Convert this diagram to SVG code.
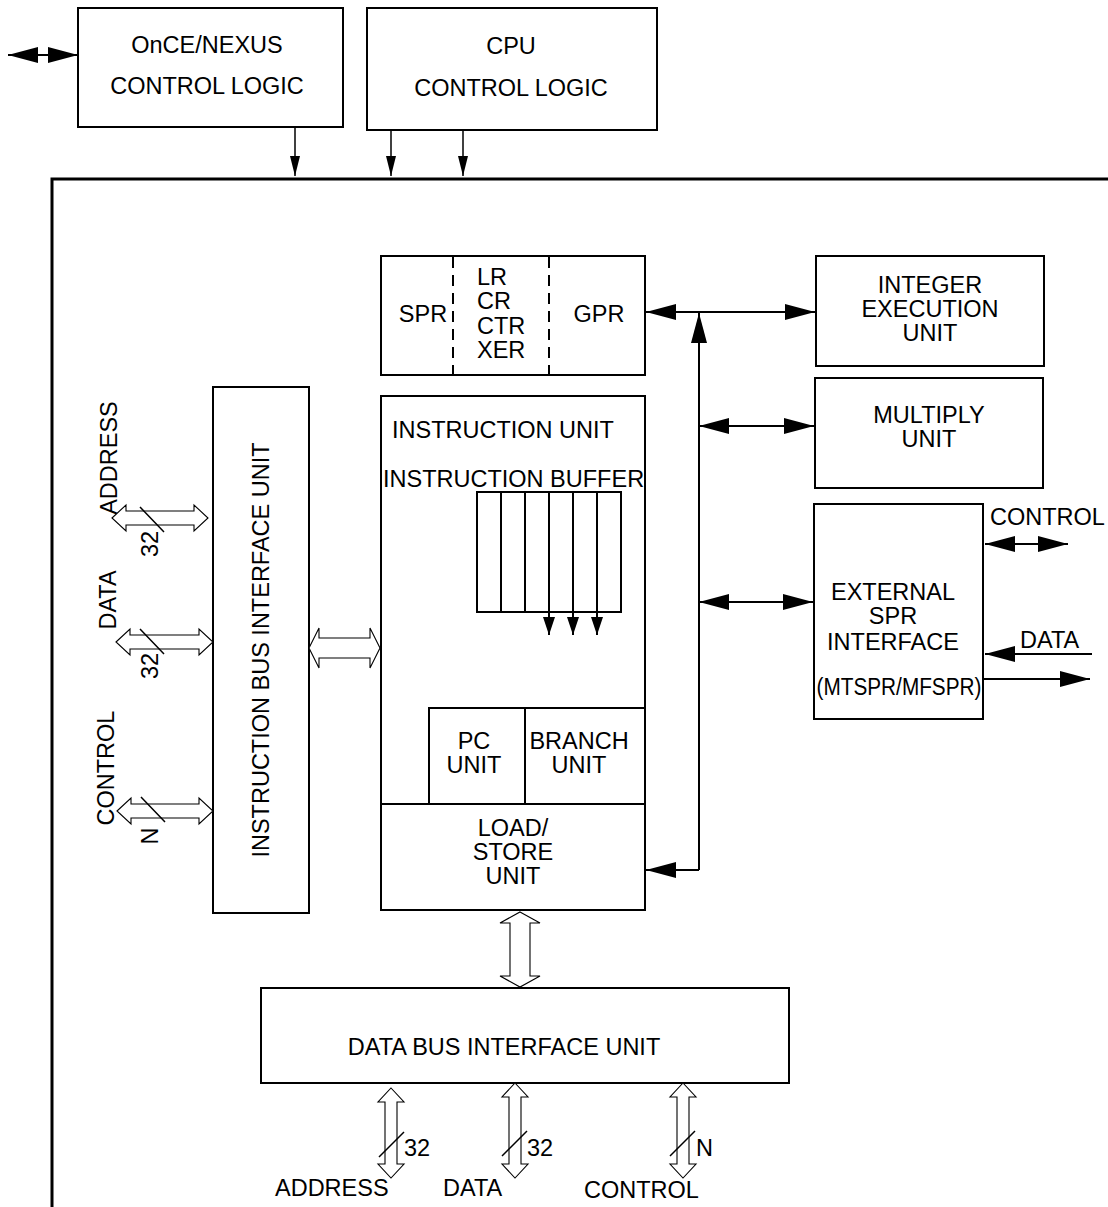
<svg xmlns="http://www.w3.org/2000/svg" width="1108" height="1207" viewBox="0 0 1108 1207">
<style>
text{font-family:"Liberation Sans",Arial,sans-serif;font-size:23.5px;fill:#000}
.c{text-anchor:middle}
.box{fill:#fff;stroke:#000;stroke-width:2}
.ln{stroke:#000;stroke-width:2;fill:none}
.thin{stroke:#000;stroke-width:1.5;fill:none}
.hol{fill:#fff;stroke:#000;stroke-width:1.1}
.dash{stroke:#000;stroke-width:2;stroke-dasharray:11 7;fill:none}
</style>
<defs>
<marker id="ah" viewBox="0 0 30 16" refX="30" refY="8" markerWidth="30" markerHeight="16" markerUnits="userSpaceOnUse" orient="auto-start-reverse"><path d="M0,0 L30,8 L0,16 z"/></marker>
<marker id="sh" viewBox="0 0 20 10" refX="20" refY="5" markerWidth="20" markerHeight="10" markerUnits="userSpaceOnUse" orient="auto"><path d="M0,0 L20,5 L0,10 z"/></marker>
<marker id="bh" viewBox="0 0 18 12" refX="18" refY="6" markerWidth="18" markerHeight="12" markerUnits="userSpaceOnUse" orient="auto"><path d="M0,0 L18,6 L0,12 z"/></marker>
</defs>

<path id="frame" d="M52,1207 L52,179 L1108,179" stroke="#000" stroke-width="3" fill="none"/>

<g id="once">
<rect class="box" x="78" y="8" width="265" height="119"/>
<text class="c" x="207" y="53">OnCE/NEXUS</text>
<text class="c" x="207" y="94">CONTROL LOGIC</text>
</g>
<g id="cpu">
<rect class="box" x="367" y="8" width="290" height="122"/>
<text class="c" x="511" y="54">CPU</text>
<text class="c" x="511" y="96">CONTROL LOGIC</text>
</g>

<g id="regs">
<rect class="box" x="381" y="256" width="264" height="119"/>
<line class="dash" x1="453" y1="257" x2="453" y2="374"/>
<line class="dash" x1="549" y1="257" x2="549" y2="374"/>
<text class="c" x="423" y="322">SPR</text>
<text x="477" y="285">LR</text>
<text x="477" y="309">CR</text>
<text x="477" y="334">CTR</text>
<text x="477" y="358">XER</text>
<text class="c" x="599" y="322">GPR</text>
</g>

<g id="integer">
<rect class="box" x="816" y="256" width="228" height="110"/>
<text class="c" x="930" y="293">INTEGER</text>
<text class="c" x="930" y="317">EXECUTION</text>
<text class="c" x="930" y="341">UNIT</text>
</g>
<g id="multiply">
<rect class="box" x="815" y="378" width="228" height="110"/>
<text class="c" x="929" y="423">MULTIPLY</text>
<text class="c" x="929" y="447">UNIT</text>
</g>
<g id="extspr">
<rect class="box" x="814" y="504" width="169" height="215"/>
<text class="c" x="893" y="600">EXTERNAL</text>
<text class="c" x="893" y="624">SPR</text>
<text class="c" x="893" y="650">INTERFACE</text>
<text class="c" x="899" y="695" textLength="165" lengthAdjust="spacingAndGlyphs">(MTSPR/MFSPR)</text>
<text x="990" y="525">CONTROL</text>
<text x="1020" y="648">DATA</text>
</g>

<g id="ibiu">
<rect class="box" x="213" y="387" width="96" height="526"/>
<text class="c" transform="rotate(-90 269 650)" x="269" y="650">INSTRUCTION BUS INTERFACE UNIT</text>
<text class="c" transform="rotate(-90 117 458)" x="117" y="458">ADDRESS</text>
<text class="c" transform="rotate(-90 158 544)" x="158" y="544">32</text>
<text class="c" transform="rotate(-90 116 600)" x="116" y="600">DATA</text>
<text class="c" transform="rotate(-90 158 666)" x="158" y="666">32</text>
<text class="c" transform="rotate(-90 114 768)" x="114" y="768">CONTROL</text>
<text class="c" transform="rotate(-90 158 836)" x="158" y="836">N</text>
</g>

<g id="iu">
<rect class="box" x="381" y="396" width="264" height="514"/>
<text x="392" y="438">INSTRUCTION UNIT</text>
<text x="383" y="487">INSTRUCTION BUFFER</text>
<g id="ibuffer">
<rect class="box" x="477" y="492" width="144" height="120"/>
<path class="ln" d="M501,492 V612 M525,492 V612 M549,492 V612 M573,492 V612 M597,492 V612"/>
</g>
<g id="pcunit">
<rect class="box" x="429" y="708" width="96" height="96"/>
<text class="c" x="474" y="749">PC</text>
<text class="c" x="474" y="773">UNIT</text>
</g>
<g id="branch">
<rect class="box" x="525" y="708" width="120" height="96"/>
<text class="c" x="579" y="749">BRANCH</text>
<text class="c" x="579" y="773">UNIT</text>
</g>
<g id="lsu">
<rect class="box" x="381" y="804" width="264" height="106"/>
<text class="c" x="513" y="836">LOAD/</text>
<text class="c" x="513" y="860">STORE</text>
<text class="c" x="513" y="884">UNIT</text>
</g>
</g>

<g id="dbiu">
<rect class="box" x="261" y="988" width="528" height="95"/>
<text class="c" x="504" y="1055">DATA BUS INTERFACE UNIT</text>
<text x="275" y="1196">ADDRESS</text>
<text x="443" y="1196">DATA</text>
<text x="584" y="1198">CONTROL</text>
<text x="404" y="1156">32</text>
<text x="527" y="1156">32</text>
<text x="696" y="1156">N</text>
</g>

<g id="connectors">
<line class="ln" x1="8" y1="55" x2="78" y2="55" marker-start="url(#ah)" marker-end="url(#ah)"/>
<line class="thin" x1="295" y1="127" x2="295" y2="176" marker-end="url(#sh)"/>
<line class="thin" x1="391" y1="130" x2="391" y2="176" marker-end="url(#sh)"/>
<line class="thin" x1="463" y1="130" x2="463" y2="176" marker-end="url(#sh)"/>

<line class="ln" x1="646" y1="312" x2="815" y2="312" marker-start="url(#ah)" marker-end="url(#ah)"/>
<line class="ln" x1="699" y1="870" x2="699" y2="313" marker-end="url(#ah)"/>
<line class="ln" x1="699" y1="870" x2="646" y2="870" marker-end="url(#ah)"/>
<line class="ln" x1="699" y1="426" x2="814" y2="426" marker-start="url(#ah)" marker-end="url(#ah)"/>
<line class="ln" x1="699" y1="602" x2="813" y2="602" marker-start="url(#ah)" marker-end="url(#ah)"/>
<line class="ln" x1="985" y1="544" x2="1068" y2="544" marker-start="url(#ah)" marker-end="url(#ah)"/>
<line class="ln" x1="1092" y1="654" x2="985" y2="654" marker-end="url(#ah)"/>
<line class="ln" x1="983" y1="679" x2="1090" y2="679" marker-end="url(#ah)"/>

<line class="ln" x1="549" y1="612" x2="549" y2="635" marker-end="url(#bh)"/>
<line class="ln" x1="573" y1="612" x2="573" y2="635" marker-end="url(#bh)"/>
<line class="ln" x1="597" y1="612" x2="597" y2="635" marker-end="url(#bh)"/>

<path class="hol" d="M112,518 L126,505 L126,511 L194,511 L194,505 L208,518 L194,531 L194,525 L126,525 L126,531 Z"/>
<path class="hol" d="M116,642 L130,629 L130,635 L199,635 L199,629 L213,642 L199,655 L199,649 L130,649 L130,655 Z"/>
<path class="hol" d="M117,811 L131,798 L131,804 L199,804 L199,798 L213,811 L199,824 L199,818 L131,818 L131,824 Z"/>
<path class="thin" d="M140,507 L164,532 M140,629 L164,654 M141,797 L165,822"/>

<path class="hol" d="M309,648 L319,628 L319,638 L370,638 L370,628 L380,648 L370,668 L370,658 L319,658 L319,668 Z"/>
<path class="hol" d="M520,912 L540,923 L530,923 L530,976 L540,976 L520,987 L500,976 L510,976 L510,923 L500,923 Z"/>

<path class="hol" d="M391,1088 L404,1102 L397,1102 L397,1164 L404,1164 L391,1178 L378,1164 L385,1164 L385,1102 L378,1102 Z"/>
<path class="hol" d="M515,1083 L528,1097 L521,1097 L521,1164 L528,1164 L515,1178 L502,1164 L509,1164 L509,1097 L502,1097 Z"/>
<path class="hol" d="M683,1083 L696,1097 L689,1097 L689,1164 L696,1164 L683,1178 L670,1164 L677,1164 L677,1097 L670,1097 Z"/>
<path class="thin" d="M379,1157 L404,1132 M502,1156 L527,1131 M670,1156 L695,1131"/>
</g>
</svg>
